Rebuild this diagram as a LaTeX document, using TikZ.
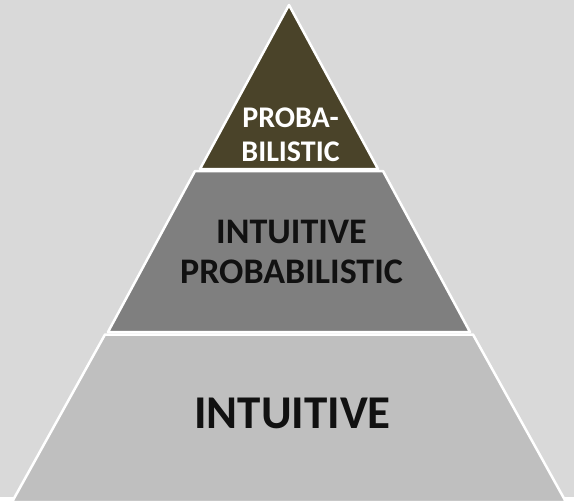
\documentclass[tikz,border=0pt]{standalone}
\usepackage{fontspec}
\setmainfont{Carlito}
\definecolor{backgrey}{HTML}{D9D9D9}
\definecolor{topolive}{HTML}{4A4329}
\definecolor{midgrey}{HTML}{7F7F7F}
\definecolor{lowgrey}{HTML}{BFBFBF}
\definecolor{inkblack}{HTML}{111111}
\usetikzlibrary{positioning}
\tikzstyle{base}=[inner sep=0pt, outer sep=0pt, x=1pt, y=-1pt]
\tikzstyle{tier}=[white, line width=2.5pt, line join=round]
\tikzstyle{tiertext}=[font=\bfseries, align=center]

\begin{document}
\begin{tikzpicture}[base]
    \fill [backgrey] (0,0) rectangle (574,497);
    % the three tiers, bottom to top
    \draw [tier, fill=lowgrey] (105,334.5) -- (473,334.5) -- (566,502) -- (12,502) -- cycle;
    \draw [tier, fill=midgrey] (195,171) -- (383,171) -- (470,332) -- (108,332) -- cycle;
    \draw [tier, fill=topolive] (289,5) -- (378,169) -- (200,169) -- cycle;
    \node (probabilistic) [tiertext, white, font=\bfseries\fontsize{30}{34}\selectfont] at (290.5,135) {PROBA-\\BILISTIC};
    \node (intuitiveprob) [tiertext, inkblack, font=\bfseries\fontsize{36}{40}\selectfont] at (291.5,251.5) {INTUITIVE\\PROBABILISTIC};
    \node (intuitive) [tiertext, inkblack, font=\bfseries\fontsize{47}{56}\selectfont] at (292.5,413) {INTUITIVE};
    \path [use as bounding box] (0,0) rectangle (574,497);
\end{tikzpicture}
\end{document}
